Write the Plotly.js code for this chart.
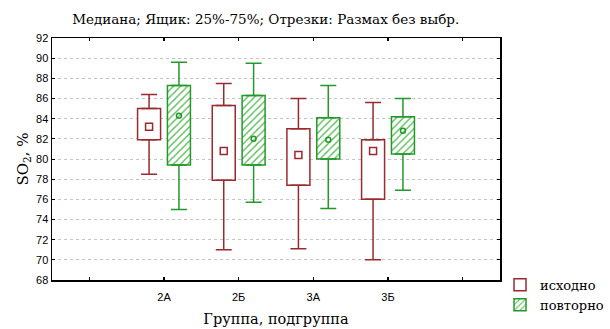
<!DOCTYPE html>
<html>
<head>
<meta charset="utf-8">
<script src="https://cdn.plot.ly/plotly-3.0.1.min.js"></script>
<style>html,body{margin:0;padding:0;background:#fff}#chart{width:610px;height:329px}</style>
</head>
<body>
<div id="chart"></div>
<script>
// Category axis (blank slots at both ends as in the original)
const axisCategories = ['\u00a0', '2А', '2Б', '3А', '3Б', '\u00a0\u00a0'];
const categories = ['2А', '2Б', '3А', '3Б'];

// "исходно" (initial)
const isxMin = [78.5, 71.0, 71.1, 70.0];
const isxQ1  = [81.9, 77.9, 77.4, 76.0];
const isxMed = [83.2, 80.8, 80.4, 80.8];
const isxQ3  = [85.0, 85.3, 83.0, 81.9];
const isxMax = [86.4, 87.5, 86.0, 85.6];

// "повторно" (repeated)
const povMin = [75.0, 75.7, 75.1, 76.9];
const povQ1  = [79.4, 79.4, 80.0, 80.5];
const povMed = [84.3, 82.0, 81.9, 82.8];
const povQ3  = [87.3, 86.3, 84.1, 84.2];
const povMax = [89.6, 89.5, 87.3, 86.0];

const RED = '#9b2a2e';
const GREEN = '#23982a';
const SERIF = '"DejaVu Serif", "Liberation Serif", serif';
const SANS = '"Liberation Sans", Arial, sans-serif';

function series(name, group, color, mn, q1, med, q3, mx, boxMarker, medSymbol, medSize) {
  const traces = [];
  traces.push({
    type: 'bar', name: name, x: categories, base: q1,
    y: q3.map((v, i) => v - q1[i]),
    offsetgroup: group, marker: boxMarker, showlegend: true, hoverinfo: 'skip'
  });
  traces.push({
    type: 'scatter', mode: 'markers', x: categories, y: q3, offsetgroup: group,
    marker: {size: 1, opacity: 0}, showlegend: false, hoverinfo: 'skip',
    error_y: {type: 'data', symmetric: false, array: mx.map((v, i) => v - q3[i]),
              arrayminus: q3.map(() => 0), color: color, thickness: 1.5, width: 8}
  });
  traces.push({
    type: 'scatter', mode: 'markers', x: categories, y: q1, offsetgroup: group,
    marker: {size: 1, opacity: 0}, showlegend: false, hoverinfo: 'skip',
    error_y: {type: 'data', symmetric: false, array: q1.map(() => 0),
              arrayminus: q1.map((v, i) => v - mn[i]), color: color, thickness: 1.5, width: 8}
  });
  traces.push({
    type: 'scatter', mode: 'markers', x: categories, y: med, offsetgroup: group,
    marker: {symbol: medSymbol, size: medSize, color: color, line: {color: color, width: 1.5}},
    showlegend: false, hoverinfo: 'skip'
  });
  return traces;
}

const data = [].concat(
  series('исходно', 'a', RED, isxMin, isxQ1, isxMed, isxQ3, isxMax,
    {color: '#ffffff', line: {color: RED, width: 1.5}}, 'square-open', 7),
  series('повторно', 'b', GREEN, povMin, povQ1, povMed, povQ3, povMax,
    {color: '#ffffff', line: {color: GREEN, width: 1.5},
     pattern: {shape: '/', fgcolor: '#4cb84c', bgcolor: '#ffffff', size: 5, solidity: 0.25}},
    'circle-open', 5)
);

const layout = {
  width: 610, height: 329,
  margin: {l: 52, r: 107, t: 38, b: 49},
  paper_bgcolor: '#ffffff', plot_bgcolor: '#ffffff',
  barmode: 'group', bargap: 0.2, bargroupgap: 0.23,
  scattermode: 'group', scattergap: 0.2,
  font: {family: SANS, size: 11, color: '#000'},
  title: {text: 'Медиана; Ящик: 25%-75%; Отрезки: Размах без выбр.',
          font: {family: SERIF, size: 13.5, color: '#000'},
          x: 0.477, xref: 'paper', xanchor: 'center', y: 0.942, yanchor: 'middle'},
  xaxis: {
    type: 'category', categoryorder: 'array', categoryarray: axisCategories,
    range: [-0.5, 5.5], showgrid: false, zeroline: false,
    showline: true, linecolor: '#000', linewidth: 1.5, mirror: 'ticks',
    ticks: 'inside', ticklen: 3, tickcolor: '#000', tickwidth: 1.5,
    tickfont: {family: SANS, size: 11, color: '#000'}, ticklabelstandoff: 6,
    title: {text: 'Группа, подгруппа', font: {family: SERIF, size: 14.5, color: '#000'}, standoff: 12}
  },
  yaxis: {
    range: [68, 92], dtick: 2, tick0: 68,
    showgrid: true, gridcolor: '#c4c4c4', griddash: 'dot', gridwidth: 1, zeroline: false,
    showline: true, linecolor: '#000', linewidth: 1.5, mirror: 'ticks',
    ticks: 'inside', ticklen: 3, tickcolor: '#000', tickwidth: 1,
    tickfont: {family: SANS, size: 11, color: '#000'},
    title: {text: 'SO<sub>2</sub>, %', font: {family: SERIF, size: 15, color: '#000'}, standoff: 4}
  },
  legend: {xref: 'container', yref: 'container', x: 0.8197, xanchor: 'left', y: 0.18, yanchor: 'top',
           font: {family: SERIF, size: 13, color: '#000'},
           bgcolor: 'rgba(0,0,0,0)', tracegroupgap: 0, itemwidth: 30, traceorder: 'normal'},
  showlegend: true
};

Plotly.newPlot('chart', data, layout, {displayModeBar: false, staticPlot: true});
</script>
</body>
</html>
